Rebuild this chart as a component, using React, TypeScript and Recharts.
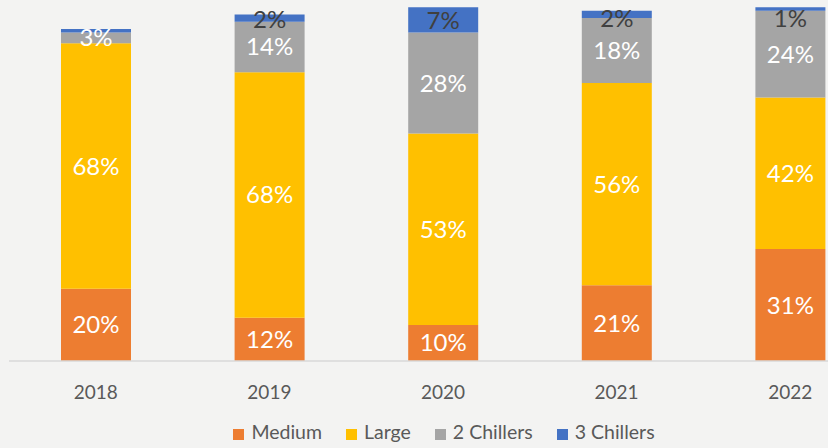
import React from "react";
import { BarChart, Bar, XAxis, YAxis, Legend, LabelList } from "recharts";

const years = ["2018", "2019", "2020", "2021", "2022"];
const medium = [20, 12, 10, 21, 31];
const large = [68, 68, 53, 56, 42];
const twoChillers = [3, 14, 28, 18, 24];
const threeChillers = [1, 2, 7, 2, 1];
const threeChillersShowLabel = [false, true, true, true, true];
const seriesOrder = ["Medium", "Large", "2 Chillers", "3 Chillers"];

const data = years.map((y, i) => ({
  year: y,
  medium: medium[i],
  large: large[i],
  two: twoChillers[i],
  three: threeChillers[i],
  threeLabel: threeChillersShowLabel[i] ? `${threeChillers[i]}%` : "",
}));

const FONT = "Lato, 'Open Sans', sans-serif";
const fmt = (v: any) => `${v}%`;

const TopLabel = (props: any) => {
  const { x, y, width, height, value } = props;
  if (!value) return null;
  const cy = Math.max(Number(y) + Number(height) / 2, 17);
  return (
    <text
      x={Number(x) + Number(width) / 2}
      y={cy}
      textAnchor="middle"
      dominantBaseline="central"
      fill="#404040"
      fontSize={24}
      fontFamily={FONT}
    >
      {value}
    </text>
  );
};

export default function App() {
  return (
    <div
      style={{
        position: "absolute",
        left: 0,
        top: 0,
        width: 828,
        height: 448,
        overflow: "hidden",
        background: "#f3f3f2",
        fontFamily: FONT,
      }}
    >
      <BarChart
        width={877}
        height={448}
        data={data}
        margin={{ top: 0, right: 0, left: 9, bottom: 57 }}
        barSize={70}
      >
        <XAxis
          dataKey="year"
          axisLine={{ stroke: "#d9d9d9", strokeWidth: 1.5 }}
          tickLine={false}
          height={30}
          tickMargin={19}
          tick={{ fill: "#595959", fontSize: 19, fontFamily: FONT }}
        />
        <YAxis hide domain={[0, 100]} />
        <Legend
          verticalAlign="middle"
          align="center"
          layout="horizontal"
          iconType="square"
          iconSize={11}
          itemSorter={(item: any) => seriesOrder.indexOf(item.value)}
          wrapperStyle={{ top: 420, left: 42, width: 828 }}
          formatter={(value: any) => (
            <span style={{ color: "#595959", fontSize: 19.5, fontFamily: FONT, paddingLeft: 3, paddingRight: 14 }}>
              {value}
            </span>
          )}
        />
        <Bar dataKey="medium" name="Medium" stackId="a" fill="#ED7D31" isAnimationActive={false}>
          <LabelList dataKey="medium" position="center" formatter={fmt} fill="#ffffff" fontSize={24} fontFamily={FONT} />
        </Bar>
        <Bar dataKey="large" name="Large" stackId="a" fill="#FFC000" isAnimationActive={false}>
          <LabelList dataKey="large" position="center" formatter={fmt} fill="#ffffff" fontSize={24} fontFamily={FONT} />
        </Bar>
        <Bar dataKey="two" name="2 Chillers" stackId="a" fill="#A5A5A5" isAnimationActive={false}>
          <LabelList dataKey="two" position="center" formatter={fmt} fill="#ffffff" fontSize={24} fontFamily={FONT} />
        </Bar>
        <Bar dataKey="three" name="3 Chillers" stackId="a" fill="#4472C4" isAnimationActive={false}>
          <LabelList dataKey="threeLabel" content={TopLabel} />
        </Bar>
      </BarChart>
    </div>
  );
}
